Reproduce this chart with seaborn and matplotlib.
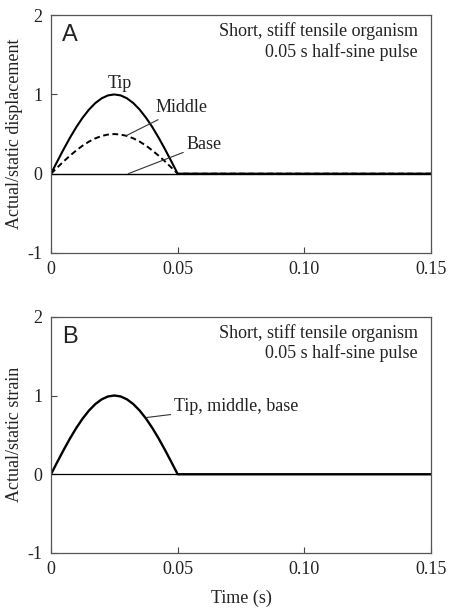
import matplotlib
matplotlib.use("Agg")
import matplotlib.pyplot as plt
import seaborn as sns
import pandas as pd

# Time samples (s)
time = [0.0, 0.0025, 0.005, 0.0075, 0.01, 0.0125, 0.015, 0.0175, 0.02, 0.0225,
        0.025, 0.0275, 0.03, 0.0325, 0.035, 0.0375, 0.04, 0.0425, 0.045, 0.0475,
        0.05, 0.15]
# Panel A: actual/static displacement
tip = [0.0, 0.156, 0.309, 0.454, 0.588, 0.707, 0.809, 0.891, 0.951, 0.988,
       1.0, 0.988, 0.951, 0.891, 0.809, 0.707, 0.588, 0.454, 0.309, 0.156,
       0.0, 0.0]
middle = [0.0, 0.078, 0.155, 0.227, 0.294, 0.354, 0.405, 0.446, 0.476, 0.494,
          0.5, 0.494, 0.476, 0.446, 0.405, 0.354, 0.294, 0.227, 0.155, 0.078,
          0.0, 0.0]
base = [0.0, 0.0, 0.0, 0.0, 0.0, 0.0, 0.0, 0.0, 0.0, 0.0,
        0.0, 0.0, 0.0, 0.0, 0.0, 0.0, 0.0, 0.0, 0.0, 0.0,
        0.0, 0.0]
# Panel B: actual/static strain (tip, middle, base identical)
strain = [0.0, 0.156, 0.309, 0.454, 0.588, 0.707, 0.809, 0.891, 0.951, 0.988,
          1.0, 0.988, 0.951, 0.891, 0.809, 0.707, 0.588, 0.454, 0.309, 0.156,
          0.0, 0.0]

xticks = [0, 0.05, 0.10, 0.15]
xticklabels = ["0", "0.05", "0.10", "0.15"]
yticks = [-1, 0, 1, 2]
yticklabels = ["-1", "0", "1", "2"]

sns.set_theme(style="white")
plt.rcParams["font.family"] = ["Liberation Serif", "DejaVu Serif"]

fig = plt.figure(figsize=(4.5, 6.08), dpi=100)
axA = fig.add_axes([0.1133, 0.584, 0.8444, 0.391])
axB = fig.add_axes([0.1133, 0.0905, 0.8444, 0.3885])

dfA = pd.DataFrame({"t": time, "tip": tip, "middle": middle, "base": base})
dfB = pd.DataFrame({"t": time, "strain": strain})

sns.lineplot(data=dfA, x="t", y="base", ax=axA, color="black", lw=1.0)
sns.lineplot(data=dfA, x="t", y="middle", ax=axA, color="black", lw=1.4, linestyle=(0, (3.0, 1.8)))
sns.lineplot(data=dfA, x="t", y="tip", ax=axA, color="black", lw=1.5)

axB.axhline(0, color="black", lw=0.9)
sns.lineplot(data=dfB, x="t", y="strain", ax=axB, color="black", lw=1.7)

fs = 13
for ax, letter, ylab in [(axA, "A", "Actual/static displacement"),
                         (axB, "B", "Actual/static strain")]:
    ax.set_xlim(0, 0.15)
    ax.set_ylim(-1, 2)
    ax.set_xticks(xticks)
    ax.set_xticklabels(xticklabels, fontsize=fs)
    ax.set_yticks(yticks)
    ax.set_yticklabels(yticklabels, fontsize=fs)
    ax.tick_params(direction="in", length=4, width=0.8, colors="#444444",
                   labelcolor="#222222", left=True, bottom=True)
    ax.tick_params(axis="x", pad=6)
    ax.tick_params(axis="y", pad=6)
    for s in ax.spines.values():
        s.set_color("#555555")
        s.set_linewidth(0.9)
    ax.set_ylabel(ylab, fontsize=fs, color="#222222", labelpad=3)
    ax.set_xlabel("")
    ax.text(0.03, 0.915, letter, transform=ax.transAxes, fontsize=17,
            family=["Liberation Sans", "DejaVu Sans"], va="center", ha="left", color="#222222")
    ax.text(0.966, 0.933, "Short, stiff tensile organism", transform=ax.transAxes,
            fontsize=fs, ha="right", va="center", color="#222222")
    ax.text(0.966, 0.845, "0.05 s half-sine pulse", transform=ax.transAxes,
            fontsize=fs, ha="right", va="center", color="#222222")

axB.set_xlabel("Time (s)", fontsize=fs, color="#222222", labelpad=8)

# Panel A annotations
axA.text(0.0273, 1.14, "Tip", fontsize=fs, ha="center", va="center", color="#222222")
axA.annotate("Middle", xy=(0.0297, 0.48), xytext=(0.0413, 0.83), fontsize=fs,
             ha="left", va="center", color="#222222",
             arrowprops=dict(arrowstyle="-", color="#333333", lw=0.8, shrinkA=0, shrinkB=0))
axA.annotate("Base", xy=(0.0305, 0.0), xytext=(0.0535, 0.37), fontsize=fs,
             ha="left", va="center", color="#222222",
             arrowprops=dict(arrowstyle="-", color="#333333", lw=0.8, shrinkA=0, shrinkB=0))

# Panel B annotation
axB.annotate("Tip, middle, base", xy=(0.0376, 0.72), xytext=(0.0485, 0.86), fontsize=fs,
             ha="left", va="center", color="#222222",
             arrowprops=dict(arrowstyle="-", color="#333333", lw=0.8, shrinkA=0, shrinkB=0))

fig.savefig("out.png", dpi=100)
